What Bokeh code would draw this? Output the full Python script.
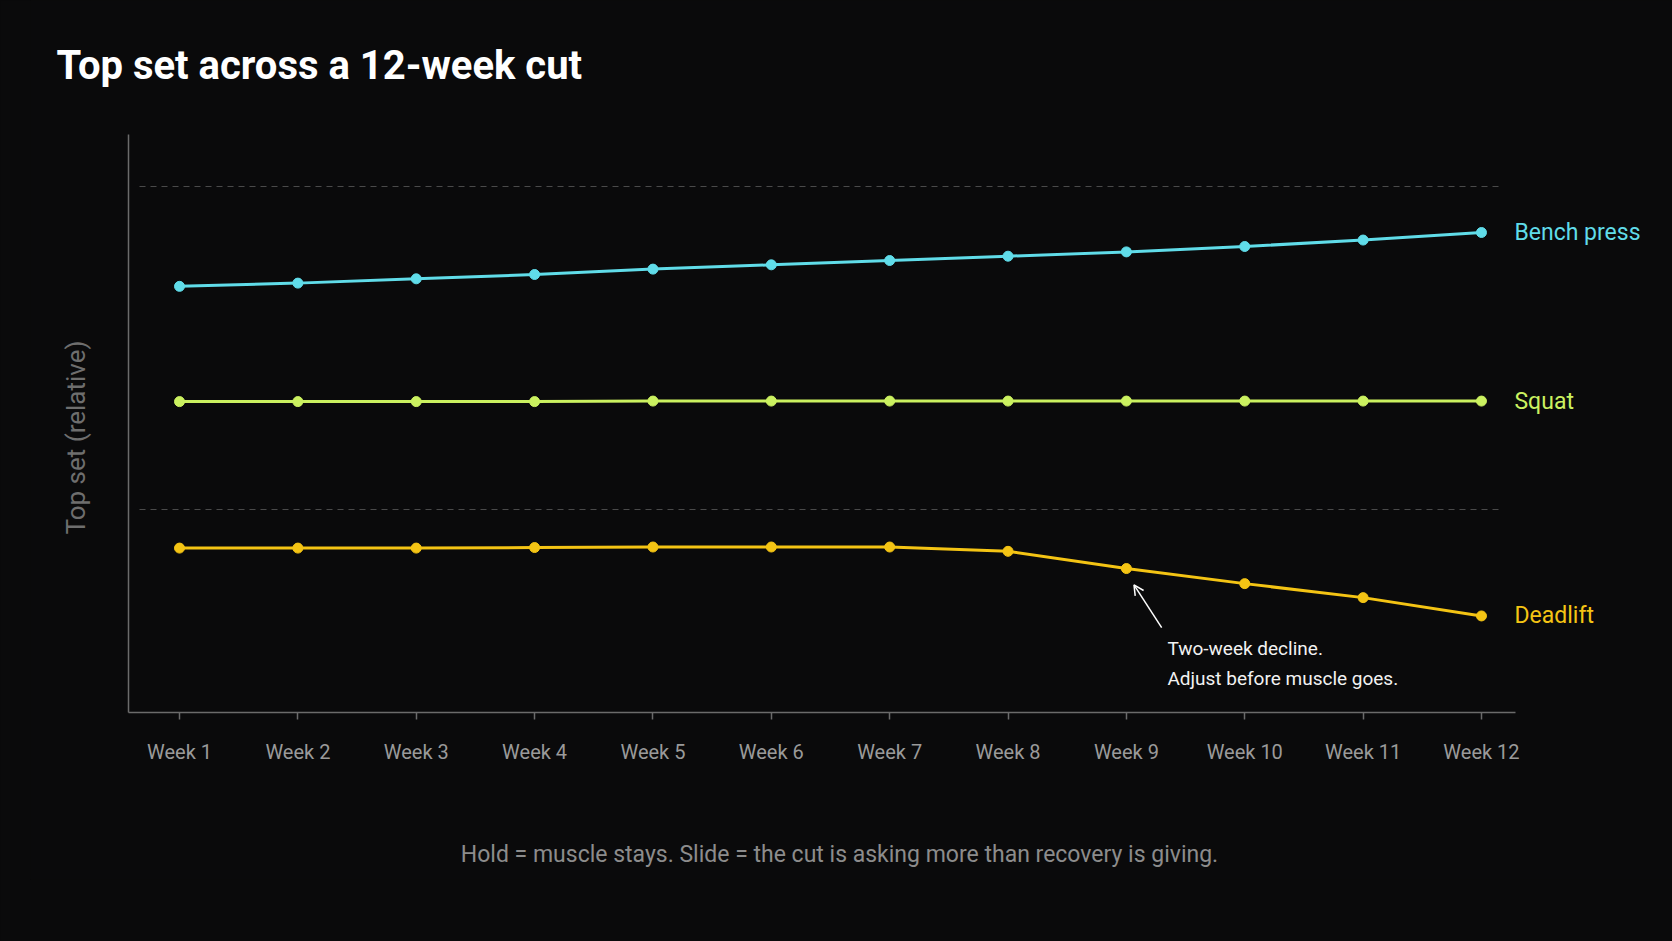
import math
from bokeh.plotting import figure
from bokeh.models import Range1d, FixedTicker, Label, Arrow, OpenHead, Grid
from bokeh.embed import file_html
from bokeh.resources import INLINE

# ---- data ----
weeks = [1, 2, 3, 4, 5, 6, 7, 8, 9, 10, 11, 12]
week_labels = ["Week 1", "Week 2", "Week 3", "Week 4", "Week 5", "Week 6",
               "Week 7", "Week 8", "Week 9", "Week 10", "Week 11", "Week 12"]
bench = [110.7, 111.0, 111.4, 111.8, 112.3, 112.7, 113.1, 113.5, 113.9, 114.4, 115.0, 115.7]
squat = [100.0, 100.0, 100.0, 100.0, 100.05, 100.05, 100.05, 100.05, 100.05, 100.05, 100.05, 100.05]
deadlift = [86.4, 86.4, 86.4, 86.45, 86.5, 86.5, 86.5, 86.1, 84.5, 83.1, 81.8, 80.1]
grid_values = [90, 120]
series_names = ["Bench press", "Squat", "Deadlift"]

# ---- style / layout ----
BG = "#0a0a0b"
COLORS = ["#60dce9", "#cbf160", "#f4c414"]
FONT = "Roboto"
AXIS_X = (0.569, 12.287)     # extent of the drawn x axis
AXIS_Y = (71.13, 124.8)      # extent of the drawn y axis
GRID_X = (0.662, 12.169)     # extent of dashed guide lines
FRAME_W, FRAME_H = 1642, 879
LEFT, BOTTOM = 30, 62

p = figure(title=None, frame_width=FRAME_W, frame_height=FRAME_H,
           min_border_left=LEFT, min_border_right=0,
           min_border_top=0, min_border_bottom=BOTTOM,
           x_range=Range1d(-0.259, 13.614), y_range=Range1d(55.63, 137.24),
           output_backend="svg", toolbar_location=None,
           background_fill_color=BG, border_fill_color=BG,
           outline_line_color=None)

# x axis (drawn at the bottom of the data area)
xa = p.xaxis[0]
xa.fixed_location = AXIS_Y[0]
xa.bounds = AXIS_X
xa.ticker = FixedTicker(ticks=weeks)
xa.major_label_overrides = {w: l for w, l in zip(weeks, week_labels)}
xa.axis_line_color = "#6b6b6b"
xa.axis_line_width = 1.5
xa.major_tick_line_color = "#6b6b6b"
xa.major_tick_line_width = 1.5
xa.major_tick_out = 7
xa.major_tick_in = 0
xa.minor_tick_line_color = None
xa.major_label_standoff = 20
xa.major_label_text_font = FONT
xa.major_label_text_font_size = "20px"
xa.major_label_text_color = "#9a9a9a"

# y axis (no ticks / labels)
ya = p.yaxis[0]
ya.fixed_location = AXIS_X[0]
ya.bounds = AXIS_Y
ya.ticker = FixedTicker(ticks=[])
ya.axis_line_color = "#6b6b6b"
ya.axis_line_width = 1.5
ya.major_tick_line_color = None
ya.minor_tick_line_color = None
ya.major_label_text_font_size = "0px"

p.xgrid.visible = False
yg = p.ygrid[0]
if "cross_bounds" in Grid.properties():
    yg.ticker = FixedTicker(ticks=grid_values)
    yg.cross_bounds = GRID_X
    yg.grid_line_color = "#4a4a4a"
    yg.grid_line_width = 1
    yg.grid_line_dash = "6 5"
else:
    yg.visible = False
    p.segment(x0=[GRID_X[0]] * len(grid_values), x1=[GRID_X[1]] * len(grid_values),
              y0=grid_values, y1=grid_values, line_color="#4a4a4a",
              line_width=1, line_dash="6 5")

# series
for vals, col, name in zip([bench, squat, deadlift], COLORS, series_names):
    p.line(weeks, vals, line_color=col, line_width=3)
    p.scatter(weeks, vals, size=10, fill_color=col, line_color=col)
    p.add_layout(Label(x=weeks[-1], y=vals[-1], x_offset=33, text=name,
                       text_baseline="middle", text_align="left",
                       text_font=FONT, text_font_size="23px", text_color=col))

# annotation near week 9 deadlift
i9 = 8
p.add_layout(Arrow(end=OpenHead(size=10, line_color="white", line_width=1.5),
                   x_start=weeks[i9] + 0.298, y_start=deadlift[i9] - 5.48,
                   x_end=weeks[i9] + 0.064, y_end=deadlift[i9] - 1.51,
                   line_color="white", line_width=1.5))
p.add_layout(Label(x=weeks[i9], y=deadlift[i9], x_offset=41, y_offset=-80,
                   text="Two-week decline.", text_baseline="middle",
                   text_font=FONT, text_font_size="19px", text_color="#f2f2f2"))
p.add_layout(Label(x=weeks[i9], y=deadlift[i9], x_offset=41, y_offset=-110,
                   text="Adjust before muscle goes.", text_baseline="middle",
                   text_font=FONT, text_font_size="19px", text_color="#f2f2f2"))

# title, y label, footer (screen units, relative to the data area)
p.add_layout(Label(x=26, y=FRAME_H - 65, x_units="screen", y_units="screen",
                   text="Top set across a 12-week cut", text_baseline="alphabetic",
                   text_font=FONT, text_font_size="40px", text_font_style="bold",
                   text_color="#ffffff"))
p.add_layout(Label(x=75 - LEFT, y=FRAME_H - 437, x_units="screen", y_units="screen",
                   angle=math.pi / 2, text="Top set (relative)",
                   text_align="center", text_baseline="middle",
                   text_font=FONT, text_font_size="26px", text_color="#6e6e6e"))
p.add_layout(Label(x=839 - LEFT, y=FRAME_H - 854, x_units="screen", y_units="screen",
                   text="Hold = muscle stays. Slide = the cut is asking more than recovery is giving.",
                   text_align="center", text_baseline="middle",
                   text_font=FONT, text_font_size="23px", text_color="#8c8c8c"))

html = file_html(p, INLINE)
html = html.replace("</head>", "<style>html,body{background:#0a0a0b;}</style></head>", 1)
open("out.html", "w").write(html)
